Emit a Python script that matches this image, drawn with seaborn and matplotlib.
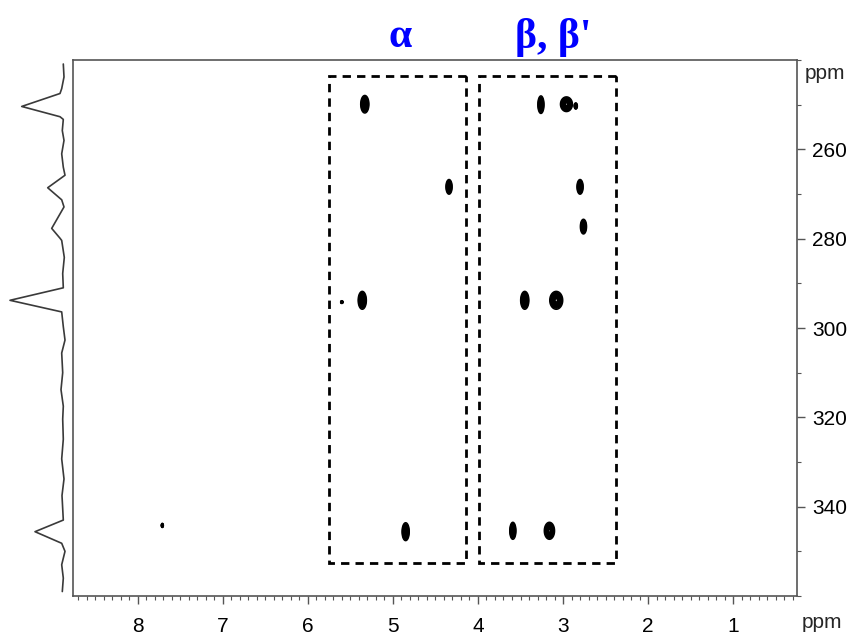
import numpy as np
import matplotlib
matplotlib.use("Agg")
import matplotlib.pyplot as plt
from matplotlib.patches import Rectangle
from matplotlib.ticker import MultipleLocator, FixedLocator
import seaborn as sns

# --- cross peaks: 1H shift (ppm), heteronuclear shift (ppm), line widths (ppm) ---
h_shift = [5.33, 4.34, 5.36, 5.60, 4.85, 3.26, 2.96, 2.85, 2.80, 2.76, 3.45, 3.08, 3.59, 3.16, 7.71]
x_shift = [249.9, 268.4, 293.8, 294.2, 345.6, 250.0, 249.9, 250.3, 268.4, 277.3,
           293.8, 293.8, 345.4, 345.4, 344.2]
h_width = [0.024, 0.018, 0.024, 0.007, 0.021, 0.018, 0.035, 0.009, 0.018, 0.018,
           0.024, 0.038, 0.018, 0.030, 0.006]
x_width = [0.98, 0.82, 1.0, 0.15, 1.0, 0.98, 0.82, 0.34, 0.82, 0.82,
           1.0, 1.0, 0.95, 0.95, 0.23]

# --- 1D projection along the indirect dimension ---
proj_ppm = [240.9, 243.8, 246.4, 247.5, 250.4, 252.7, 253.3, 255.8, 258.0, 261.0,
            264.0, 265.8, 268.6, 271.3, 272.9, 277.7, 279.9, 280.4, 284.2, 287.8,
            291.0, 293.8, 296.4, 299.7, 302.7, 305.6, 310.0, 313.8, 317.5, 320.4,
            324.9, 329.3, 333.8, 337.5, 343.0, 345.6, 348.2, 350.0, 353.0, 356.0, 359.0]
proj_int = [-0.3, -1.0, 1.3, 3.0, 41.3, 3.0, -0.3, 0.7, -1.0, 1.3,
            -0.3, -2.0, 15.3, 1.3, -1.0, 11.3, 3.0, 1.3, -1.3, 0.3,
            -0.3, 53.0, 1.3, -0.3, -2.0, 1.3, 0.3, 2.0, -0.3, 0.3,
            -0.3, 1.3, -1.0, 1.0, -0.3, 28.0, 1.3, -2.0, 1.3, -0.3, 0.7]

# --- assignment regions: (label, 1H left, 1H right, top, bottom) ---
region_labels = ["\u03b1", "\u03b2, \u03b2'"]
region_h_left = [5.75, 3.99]
region_h_right = [4.14, 2.38]
region_top = [243.6, 243.6]
region_bottom = [352.7, 352.7]
label_h = [4.92, 3.11]

x_ticks = [8, 7, 6, 5, 4, 3, 2, 1]
y_ticks = [260, 280, 300, 320, 340]

sns.set_style("white")
plt.rcParams["font.family"] = ["Liberation Sans", "DejaVu Sans"]

W, H = 860, 636
fig = plt.figure(figsize=(W / 100, H / 100), dpi=100)

L, R, T, B = 73, 797, 60, 596
ax = fig.add_axes([L / W, 1 - B / H, (R - L) / W, (B - T) / H])
axp = fig.add_axes([0, 1 - B / H, L / W, (B - T) / H])

xlim = (8.76, 0.25)
ylim = (360.0, 240.0)

# 2D spectrum surface from the peak list
gx = np.arange(0.25, 8.76, 0.003)
gy = np.arange(240.0, 360.0, 0.08)
X, Y = np.meshgrid(gx, gy)
Z = np.zeros_like(X)
for h0, y0, sh, sy in zip(h_shift, x_shift, h_width, x_width):
    Z += np.exp(-((X - h0) ** 2 / (2 * sh ** 2) + (Y - y0) ** 2 / (2 * sy ** 2)))
ax.contour(X, Y, Z, levels=np.linspace(0.135, 0.93, 11),
           colors="black", linewidths=1.1)

# dashed assignment boxes and their labels
for lab, xl, xr, yt, yb, lh in zip(region_labels, region_h_left, region_h_right,
                                   region_top, region_bottom, label_h):
    ax.add_patch(Rectangle((xr, yt), xl - xr, yb - yt, fill=False,
                           edgecolor="black", linewidth=2, linestyle=(0, (3, 2.2))))
    ax.text(lh, 1.042, lab, transform=ax.get_xaxis_transform(),
            ha="center", va="center", color="#0000ff", fontsize=30,
            fontweight="bold", family=["Liberation Serif", "DejaVu Serif"])

ax.set_xlim(*xlim)
ax.set_ylim(*ylim)
ax.xaxis.set_major_locator(FixedLocator(x_ticks))
ax.xaxis.set_minor_locator(MultipleLocator(0.1))
ax.yaxis.set_major_locator(FixedLocator(y_ticks))
ax.yaxis.set_minor_locator(MultipleLocator(10))
ax.yaxis.tick_right()
ax.tick_params(axis="both", which="major", direction="out", length=6, width=1,
               color="#555555", labelsize=15, labelcolor="black")
ax.tick_params(axis="both", which="minor", direction="out", length=3, width=0.8,
               color="#555555")
ax.tick_params(axis="y", which="both", left=False, right=True, pad=5)
ax.tick_params(axis="x", which="both", bottom=True, top=False, pad=9)
for s in ax.spines.values():
    s.set_color("#555555")
    s.set_linewidth(1.2)

ax.text(1.01, 243.0, "ppm", transform=ax.get_yaxis_transform(),
        ha="left", va="center", fontsize=15)
ax.text(1.035, -0.05, "ppm", transform=ax.transAxes, ha="center", va="center",
        fontsize=15)

# projection trace on the left
sns.lineplot(x=proj_int, y=proj_ppm, sort=False, orient="y", estimator=None,
             ax=axp, color="#3a3a3a", linewidth=1.2)
axp.set_xlim(63, -10)
axp.set_ylim(*ylim)
axp.set_axis_off()

fig.savefig("out.png", dpi=100)
